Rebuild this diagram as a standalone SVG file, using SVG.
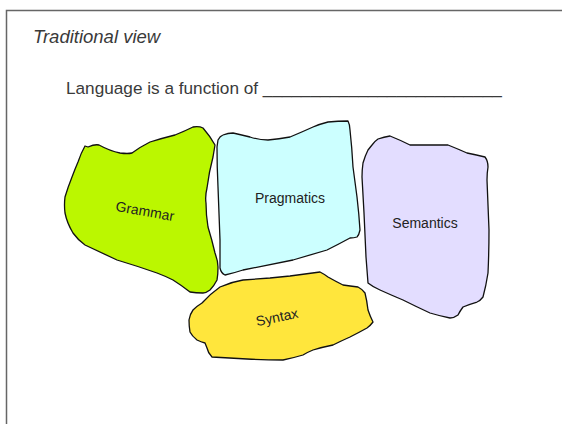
<svg xmlns="http://www.w3.org/2000/svg" width="562" height="424" viewBox="0 0 562 424">
  <style>
    .blob { stroke: #111; stroke-width: 1.3; stroke-linejoin: round; }
    .lbl { font-family: "Liberation Sans", Arial, sans-serif; font-size: 14px; fill: #222; text-anchor: middle; }
    .head { font-family: "Liberation Sans", Arial, sans-serif; fill: #3a3a3a; }
  </style>
  <rect x="0" y="0" width="562" height="424" fill="#fff"/>
  <!-- slide frame -->
  <path d="M6.5 424 V10.5 H562" fill="none" stroke="#666" stroke-width="1.5"/>

  <text class="head" x="33" y="43" font-size="18.5" font-style="italic">Traditional view</text>
  <text class="head" x="66" y="94" font-size="17.2">Language is a function of _________________________</text>

  <g id="grammar">
    <path class="blob" fill="#bbf700" d="M85 146 L88 147 Q95 144 99 145 Q110 151 120 153 Q128 154 132 153 Q140 147 150 142 Q163 138 175 135 Q185 131 193 127 Q199 126 203 128 Q210 136 215 145 L213 157 Q209 172 207 188 Q205 196 206 203 Q206 215 208 227 Q212 240 215 253 Q218 261 218 267 Q218 275 217 280 Q214 286 210 290 Q206 293 203 293 Q196 293 190 292 Q181 285 173 280 Q165 276 157 273 Q137 266 117 260 Q100 252 85 245 Q78 240 73 233 Q67 223 65 213 Q64 205 65 197 Q68 187 72 177 Q75 169 78 162 Q81 153 85 146 Z"/>
    <text class="lbl" x="145" y="216" transform="rotate(10 145 211)">Grammar</text>
  </g>

  <g id="pragmatics">
    <path class="blob" fill="#ccffff" d="M218 140 Q220 136 223 135 Q228 133 233 133 Q242 135 250 137 Q259 140 268 140 Q279 139 290 137 Q302 132 313 127 Q320 124 328 122 Q338 121 348 121 Q350 125 350 130 Q352 148 353 167 Q355 182 357 197 Q359 214 360 230 Q359 235 357 237 Q354 238 350 238 Q339 244 327 250 Q310 255 293 260 Q268 265 243 270 Q234 273 225 275 Q221 273 220 268 Q220 254 220 240 Q219 213 218 187 Q217 167 217 147 Z"/>
    <text class="lbl" x="290" y="203">Pragmatics</text>
  </g>

  <g id="semantics">
    <path class="blob" fill="#e3ddff" d="M372 145 Q375 141 378 139 Q384 137 390 136 Q400 140 410 145 Q429 145 448 145 Q458 149 467 153 Q477 155 485 157 Q488 161 488 167 Q487 173 487 180 Q488 205 489 230 Q489 252 488 273 Q486 286 483 297 Q480 301 477 302 Q470 304 463 307 Q460 311 458 315 Q454 318 450 318 Q440 316 430 313 Q417 307 403 300 Q391 295 380 290 Q373 287 368 283 Q367 270 366 257 Q365 235 364 213 Q363 195 362 177 Q362 170 363 163 Q365 156 368 150 Z"/>
    <text class="lbl" x="425" y="228">Semantics</text>
  </g>

  <g id="syntax">
    <path class="blob" fill="#ffe63c" d="M193 310 Q197 306 202 303 Q210 294 220 287 Q231 282 243 280 Q256 279 270 278 Q280 277 290 276 Q305 274 320 272 Q324 274 328 277 Q335 281 343 285 Q350 286 358 287 Q362 289 365 293 Q367 301 368 310 Q370 316 373 322 Q370 326 367 328 Q358 333 350 337 Q341 341 333 345 Q323 347 313 350 Q308 352 303 355 Q293 358 283 360 Q265 360 247 359 Q229 358 212 357 Q208 353 207 348 L205 343 Q201 342 197 340 Q192 336 190 332 Q189 326 189 320 Q190 314 193 310 Z"/>
    <text class="lbl" x="277" y="322" transform="rotate(-12 277 317)">Syntax</text>
  </g>

  <g id="connectors"></g>
</svg>
